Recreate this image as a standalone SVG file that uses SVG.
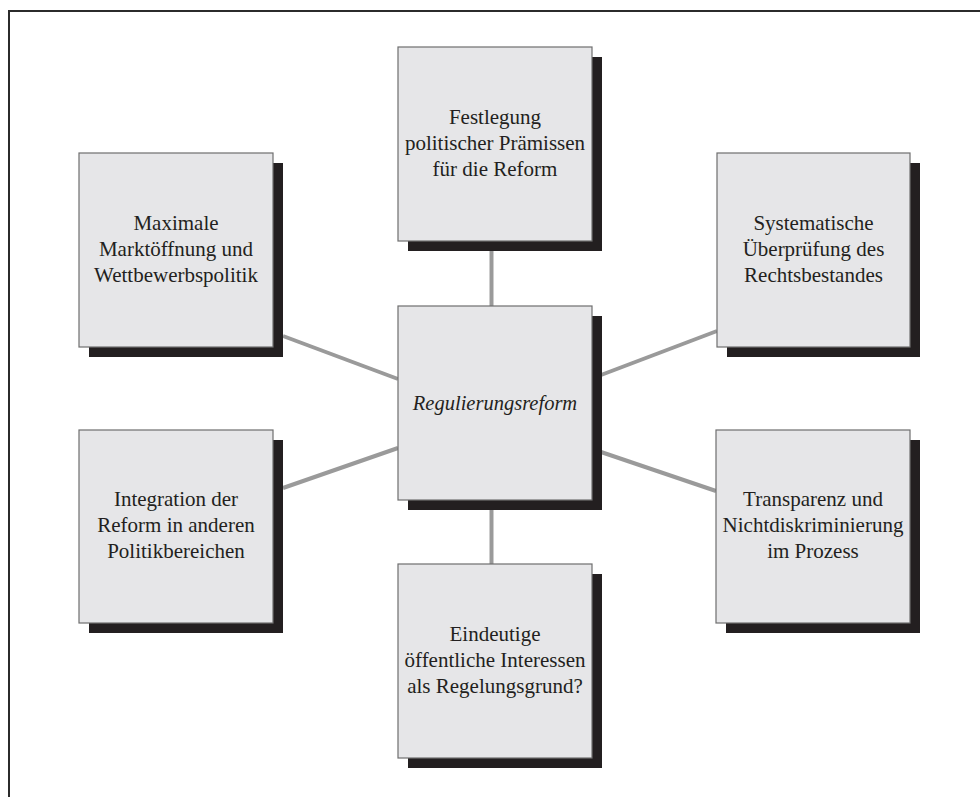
<svg xmlns="http://www.w3.org/2000/svg" width="980" height="797" viewBox="0 0 980 797">
<style>
.shadow{fill:#231f20}
.box{fill:#e6e6e8;stroke:#6e6e6e;stroke-width:1.2}
.t{font-family:'Liberation Serif','DejaVu Serif',serif;font-size:21px;fill:#231f20;text-anchor:middle}
.it{font-style:italic;font-size:20.5px}
.c{stroke:#9a9a9a;stroke-width:4;fill:none}
</style>
<rect width="980" height="797" fill="#ffffff"/>
<path d="M9,797 V11 H980" fill="none" stroke="#2b2b2b" stroke-width="2"/>
<g id="connectors">
<line class="c" x1="491.5" y1="251" x2="491.5" y2="306"/>
<line class="c" x1="491.5" y1="510" x2="491.5" y2="564"/>
<line class="c" x1="283" y1="336" x2="398" y2="379"/>
<line class="c" x1="283" y1="488" x2="398" y2="448"/>
<line class="c" x1="601" y1="375" x2="717" y2="331"/>
<line class="c" x1="601" y1="452" x2="716" y2="491"/>
</g>
<g id="n-top">
<rect class="shadow" x="408" y="57" width="194" height="194"/>
<rect class="box" x="398" y="47" width="194" height="194"/>
<text class="t" font-family="Liberation Serif, serif" x="495" y="124">Festlegung</text>
<text class="t" x="495" y="150">politischer Prämissen</text>
<text class="t" x="495" y="176">für die Reform</text>
</g>
<g id="n-center">
<rect class="shadow" x="408" y="316" width="194" height="194"/>
<rect class="box" x="398" y="306" width="194" height="194"/>
<text class="t it" x="495" y="410">Regulierungsreform</text>
</g>
<g id="n-lefttop">
<rect class="shadow" x="89" y="163" width="194" height="194"/>
<rect class="box" x="79" y="153" width="194" height="194"/>
<text class="t" x="176" y="230">Maximale</text>
<text class="t" x="176" y="256">Marktöffnung und</text>
<text class="t" x="176" y="282">Wettbewerbspolitik</text>
</g>
<g id="n-righttop">
<rect class="shadow" x="727" y="163" width="193" height="194"/>
<rect class="box" x="717" y="153" width="193" height="194"/>
<text class="t" x="813.5" y="230">Systematische</text>
<text class="t" x="813.5" y="256">Überprüfung des</text>
<text class="t" x="813.5" y="282">Rechtsbestandes</text>
</g>
<g id="n-leftbottom">
<rect class="shadow" x="89" y="440" width="194" height="193"/>
<rect class="box" x="79" y="430" width="194" height="193"/>
<text class="t" x="176" y="506">Integration der</text>
<text class="t" x="176" y="532">Reform in anderen</text>
<text class="t" x="176" y="558">Politikbereichen</text>
</g>
<g id="n-rightbottom">
<rect class="shadow" x="726" y="440" width="194" height="193"/>
<rect class="box" x="716" y="430" width="194" height="193"/>
<text class="t" x="813" y="506">Transparenz und</text>
<text class="t" x="813" y="532">Nichtdiskriminierung</text>
<text class="t" x="813" y="558">im Prozess</text>
</g>
<g id="n-bottom">
<rect class="shadow" x="408" y="574" width="194" height="194"/>
<rect class="box" x="398" y="564" width="194" height="194"/>
<text class="t" x="495" y="641">Eindeutige</text>
<text class="t" x="495" y="667">öffentliche Interessen</text>
<text class="t" x="495" y="693">als Regelungsgrund?</text>
</g>
</svg>
